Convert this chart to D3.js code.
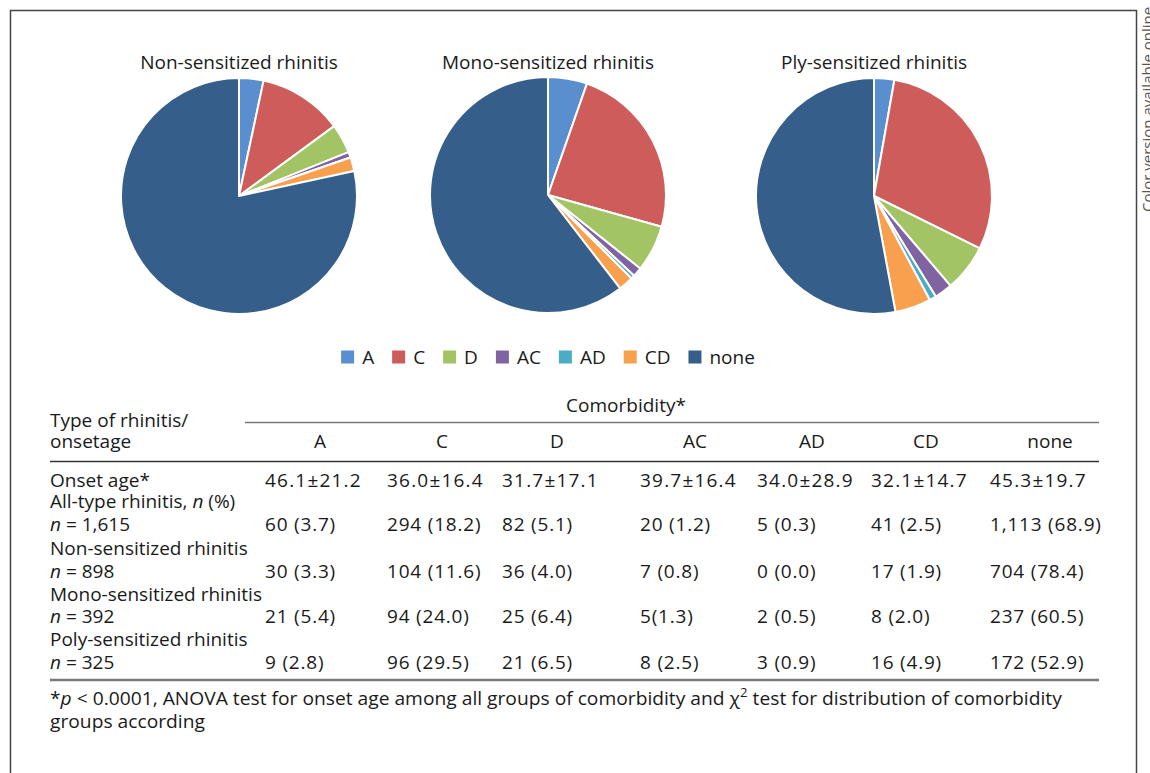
<!DOCTYPE html>
<html>
<head>
<meta charset="utf-8">
<script src="https://cdn.jsdelivr.net/npm/d3@7"></script>
<style>
  html, body { margin: 0; padding: 0; background: #fff; }
  svg { display: block; font-family: "Open Sans", "Noto Sans", sans-serif; }
</style>
</head>
<body>
<svg id="fig" width="1150" height="773"></svg>
<script>
// Comorbidity groups (pie slices / table columns)
const groups = ["A", "C", "D", "AC", "AD", "CD", "none"];
const groupColors = ["#5a8fcf", "#cd5c5a", "#a2c464", "#8064a2", "#4bacc6", "#f9a04f", "#355e8b"];

// Patient counts per comorbidity group
const pieTitles = ["Non-sensitized rhinitis", "Mono-sensitized rhinitis", "Ply-sensitized rhinitis"];
const nonCounts  = [30, 104, 36, 7, 0, 17, 704];
const monoCounts = [21, 94, 25, 5, 2, 8, 237];
const polyCounts = [9, 96, 21, 8, 3, 16, 172];
const allCounts  = [60, 294, 82, 20, 5, 41, 1113];

// Table text
const onsetAge = ["46.1±21.2", "36.0±16.4", "31.7±17.1", "39.7±16.4", "34.0±28.9", "32.1±14.7", "45.3±19.7"];
const allCells  = ["60 (3.7)", "294 (18.2)", "82 (5.1)", "20 (1.2)", "5 (0.3)", "41 (2.5)", "1,113 (68.9)"];
const nonCells  = ["30 (3.3)", "104 (11.6)", "36 (4.0)", "7 (0.8)", "0 (0.0)", "17 (1.9)", "704 (78.4)"];
const monoCells = ["21 (5.4)", "94 (24.0)", "25 (6.4)", "5(1.3)", "2 (0.5)", "8 (2.0)", "237 (60.5)"];
const polyCells = ["9 (2.8)", "96 (29.5)", "21 (6.5)", "8 (2.5)", "3 (0.9)", "16 (4.9)", "172 (52.9)"];
const rowLabels = ["All-type rhinitis, ", "Non-sensitized rhinitis", "Mono-sensitized rhinitis", "Poly-sensitized rhinitis"];
const rowNs = ["1,615", "898", "392", "325"];

const svg = d3.select("#fig");
const ink = "#1a1a1a";
const fs = 19;

// ---- outer frame ----
svg.append("path")
  .attr("d", "M10.5,773 V10.5 H1136.5 V773")
  .attr("fill", "none").attr("stroke", "#444").attr("stroke-width", 1.5);

svg.append("text")
  .attr("transform", "translate(1153,212) rotate(-90)")
  .attr("font-size", 15).attr("fill", "#555")
  .text("Color version available online");

// ---- pies ----
const color = d3.scaleOrdinal().domain(groups).range(groupColors);
const pie = d3.pie().sort(null).value(d => d.v);
const radius = 118;
const arc = d3.arc().innerRadius(0).outerRadius(radius);
const pieCenters = [[239, 196], [548, 195], [874, 196]];
const pieData = [nonCounts, monoCounts, polyCounts];

pieData.forEach((counts, i) => {
  const g = svg.append("g").attr("transform", `translate(${pieCenters[i][0]},${pieCenters[i][1]})`);
  const rows = groups.map((k, j) => ({ k, v: counts[j] }));
  g.selectAll("path")
    .data(pie(rows))
    .join("path")
    .attr("d", arc)
    .attr("fill", d => color(d.data.k))
    .attr("stroke", "#fff")
    .attr("stroke-width", 2)
    .attr("stroke-linejoin", "round");
  svg.append("text")
    .attr("x", pieCenters[i][0]).attr("y", 69)
    .attr("text-anchor", "middle")
    .attr("font-size", fs).attr("fill", ink)
    .text(pieTitles[i]);
});

// ---- legend ----
const legend = svg.append("g");
let lx = 0;
groups.forEach((k, j) => {
  const item = legend.append("g").attr("transform", `translate(${lx},0)`);
  item.append("rect").attr("x", 0).attr("y", -6.5).attr("width", 13).attr("height", 13).attr("fill", color(k));
  const t = item.append("text").attr("x", 21).attr("y", 6.5).attr("font-size", fs).attr("fill", ink).text(k);
  lx += 21 + t.node().getComputedTextLength() + 18;
});
const legendW = lx - 18;
legend.attr("transform", `translate(${548 - legendW / 2},357)`);

// ---- table ----
const tableLeft = 50, tableRight = 1099;
const colStart = [265, 387, 502, 640, 757, 871, 990];
const tbl = svg.append("g").attr("font-size", fs).attr("fill", ink);

tbl.append("text").attr("x", 626).attr("y", 412).attr("text-anchor", "middle").text("Comorbidity*");
tbl.append("line").attr("x1", 245).attr("x2", tableRight).attr("y1", 422.5).attr("y2", 422.5)
  .attr("stroke", "#777").attr("stroke-width", 1.5);
tbl.append("text").attr("x", tableLeft).attr("y", 427).text("Type of rhinitis/");
tbl.append("text").attr("x", tableLeft).attr("y", 448).text("onsetage");

groups.forEach((k, j) => {
  const cx = colStart[j] + (k === "none" ? 60 : 55);
  tbl.append("text").attr("x", cx).attr("y", 448).attr("text-anchor", "middle").text(k);
});
tbl.append("line").attr("x1", tableLeft).attr("x2", tableRight).attr("y1", 461.5).attr("y2", 461.5)
  .attr("stroke", "#333").attr("stroke-width", 1.5);

// onset age row
tbl.append("text").attr("x", tableLeft).attr("y", 487).text("Onset age*");
onsetAge.forEach((s, j) => tbl.append("text").attr("x", colStart[j]).attr("y", 487)
  .attr("letter-spacing", 1.2).text(s));

// count rows
const cellRows = [allCells, nonCells, monoCells, polyCells];
const labelY = [508, 555, 601, 646];
const valueY = [531, 578, 623, 669];
cellRows.forEach((cells, r) => {
  const lab = tbl.append("text").attr("x", tableLeft).attr("y", labelY[r]).text(rowLabels[r]);
  if (r === 0) {
    lab.append("tspan").attr("font-style", "italic").text("n");
    lab.append("tspan").text(" (%)");
  }
  const nl = tbl.append("text").attr("x", tableLeft).attr("y", valueY[r]);
  nl.append("tspan").attr("font-style", "italic").text("n");
  nl.append("tspan").text(" = " + rowNs[r]);
  cells.forEach((s, j) => tbl.append("text").attr("x", colStart[j]).attr("y", valueY[r])
    .attr("letter-spacing", 0.8).text(s));
});

tbl.append("line").attr("x1", tableLeft).attr("x2", tableRight).attr("y1", 680).attr("y2", 680)
  .attr("stroke", "#7a7a7a").attr("stroke-width", 2.5);

// footnote
const fn1 = tbl.append("text").attr("x", tableLeft).attr("y", 705);
fn1.append("tspan").text("*");
fn1.append("tspan").attr("font-style", "italic").text("p");
fn1.append("tspan").text(" < 0.0001, ANOVA test for onset age among all groups of comorbidity and χ");
fn1.append("tspan").attr("font-size", 13).attr("dy", -8).text("2");
fn1.append("tspan").attr("dy", 8).text(" test for distribution of comorbidity");
const w1 = fn1.node().getComputedTextLength();
const target = 1012;
const k = target / w1;
fn1.attr("transform", `translate(${tableLeft},0) scale(${k},1) translate(${-tableLeft},0)`);
tbl.append("text").attr("x", tableLeft).attr("y", 728)
  .attr("transform", `translate(${tableLeft},0) scale(${k},1) translate(${-tableLeft},0)`)
  .text("groups according");
</script>
</body>
</html>
